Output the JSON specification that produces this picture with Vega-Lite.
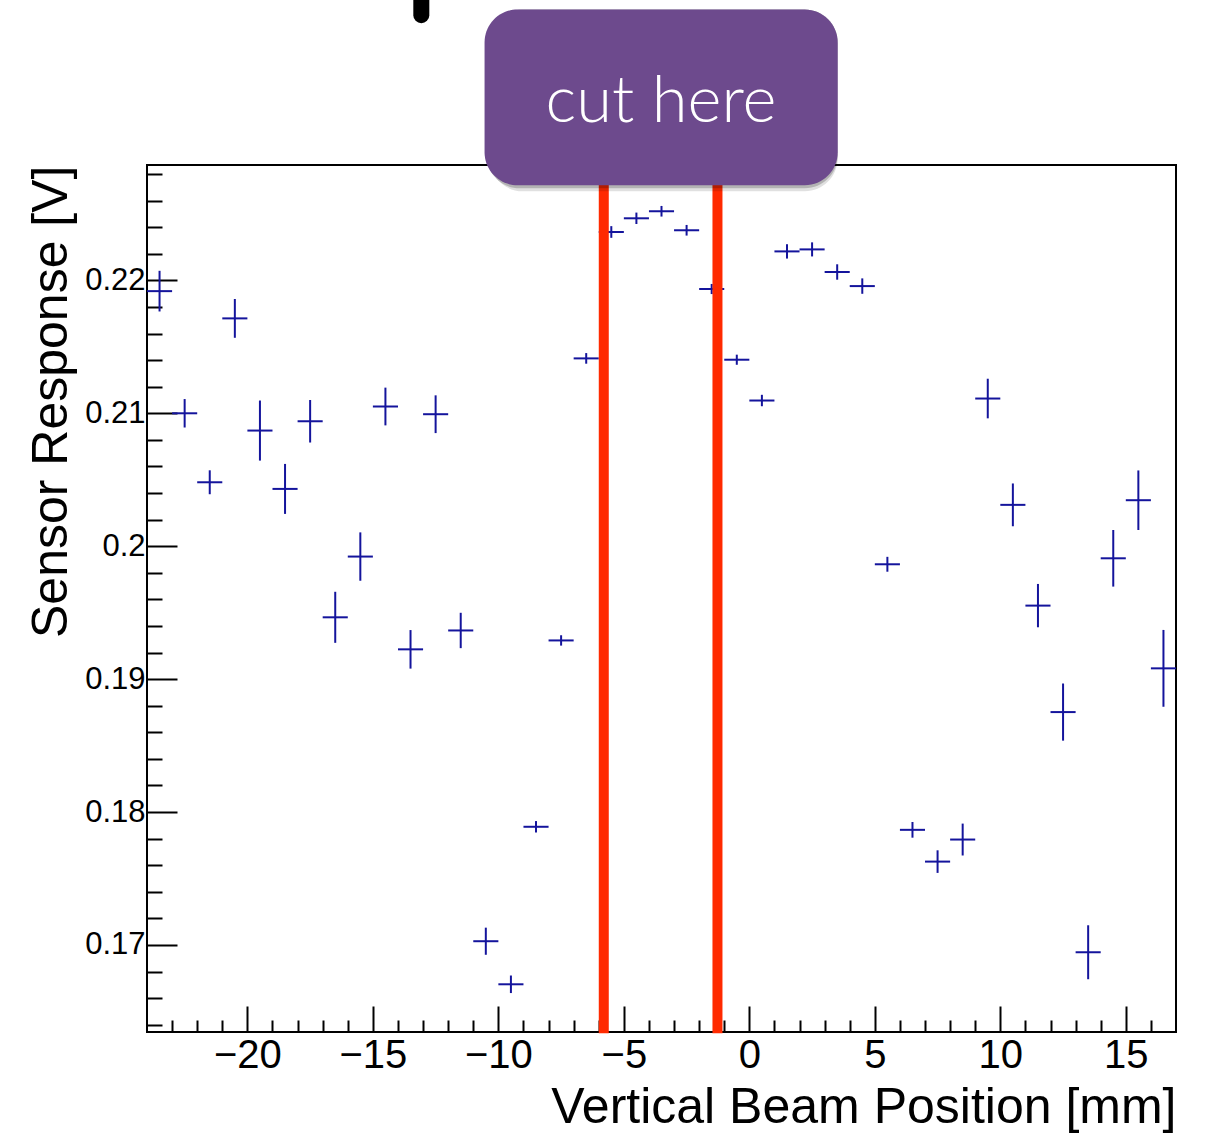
{
  "$schema": "https://vega.github.io/schema/vega-lite/v6.json",
  "autosize": "none",
  "width": 1029,
  "height": 867,
  "padding": {"left": 147, "top": 165, "right": 30, "bottom": 102},
  "background": "white",
  "config": {
    "view": {"stroke": "black", "strokeWidth": 2},
    "font": "Liberation Sans"
  },
  "datasets": {
    "points": [
      {"x": -23.5, "xlo": -24.0, "xhi": -23.0, "y": 0.21919, "ylo": 0.21766, "yhi": 0.22072},
      {"x": -22.5, "xlo": -23.0, "xhi": -22.0, "y": 0.2100, "ylo": 0.20893, "yhi": 0.21107},
      {"x": -21.5, "xlo": -22.0, "xhi": -21.0, "y": 0.20481, "ylo": 0.20391, "yhi": 0.20571},
      {"x": -20.5, "xlo": -21.0, "xhi": -20.0, "y": 0.21714, "ylo": 0.21568, "yhi": 0.21860},
      {"x": -19.5, "xlo": -20.0, "xhi": -19.0, "y": 0.2087, "ylo": 0.20644, "yhi": 0.21096},
      {"x": -18.5, "xlo": -19.0, "xhi": -18.0, "y": 0.20431, "ylo": 0.20243, "yhi": 0.20619},
      {"x": -17.5, "xlo": -18.0, "xhi": -17.0, "y": 0.2094, "ylo": 0.2078, "yhi": 0.2110},
      {"x": -16.5, "xlo": -17.0, "xhi": -16.0, "y": 0.19465, "ylo": 0.19273, "yhi": 0.19657},
      {"x": -15.5, "xlo": -16.0, "xhi": -15.0, "y": 0.19922, "ylo": 0.1974, "yhi": 0.20104},
      {"x": -14.5, "xlo": -15.0, "xhi": -14.0, "y": 0.21051, "ylo": 0.20909, "yhi": 0.21193},
      {"x": -13.5, "xlo": -14.0, "xhi": -13.0, "y": 0.19224, "ylo": 0.19079, "yhi": 0.19369},
      {"x": -12.5, "xlo": -13.0, "xhi": -12.0, "y": 0.20993, "ylo": 0.20851, "yhi": 0.21135},
      {"x": -11.5, "xlo": -12.0, "xhi": -11.0, "y": 0.19366, "ylo": 0.19233, "yhi": 0.19499},
      {"x": -10.5, "xlo": -11.0, "xhi": -10.0, "y": 0.17028, "ylo": 0.16926, "yhi": 0.1713},
      {"x": -9.5, "xlo": -10.0, "xhi": -9.0, "y": 0.16704, "ylo": 0.16638, "yhi": 0.1677},
      {"x": -8.5, "xlo": -9.0, "xhi": -8.0, "y": 0.17889, "ylo": 0.17846, "yhi": 0.17932},
      {"x": -7.5, "xlo": -8.0, "xhi": -7.0, "y": 0.19291, "ylo": 0.19252, "yhi": 0.1933},
      {"x": -6.5, "xlo": -7.0, "xhi": -6.0, "y": 0.21413, "ylo": 0.21373, "yhi": 0.21453},
      {"x": -5.5, "xlo": -6.0, "xhi": -5.0, "y": 0.22364, "ylo": 0.2232, "yhi": 0.22408},
      {"x": -4.5, "xlo": -5.0, "xhi": -4.0, "y": 0.22467, "ylo": 0.22424, "yhi": 0.2251},
      {"x": -3.5, "xlo": -4.0, "xhi": -3.0, "y": 0.2252, "ylo": 0.2248, "yhi": 0.2256},
      {"x": -2.5, "xlo": -3.0, "xhi": -2.0, "y": 0.22377, "ylo": 0.22337, "yhi": 0.22417},
      {"x": -1.5, "xlo": -2.0, "xhi": -1.0, "y": 0.21935, "ylo": 0.21897, "yhi": 0.21973},
      {"x": -0.5, "xlo": -1.0, "xhi": 0.0, "y": 0.21403, "ylo": 0.21365, "yhi": 0.21441},
      {"x": 0.5, "xlo": 0.0, "xhi": 1.0, "y": 0.21096, "ylo": 0.21053, "yhi": 0.21139},
      {"x": 1.5, "xlo": 1.0, "xhi": 2.0, "y": 0.22218, "ylo": 0.22164, "yhi": 0.22272},
      {"x": 2.5, "xlo": 2.0, "xhi": 3.0, "y": 0.22233, "ylo": 0.2218, "yhi": 0.22286},
      {"x": 3.5, "xlo": 3.0, "xhi": 4.0, "y": 0.22063, "ylo": 0.22005, "yhi": 0.22121},
      {"x": 4.5, "xlo": 4.0, "xhi": 5.0, "y": 0.21957, "ylo": 0.21899, "yhi": 0.22015},
      {"x": 5.5, "xlo": 5.0, "xhi": 6.0, "y": 0.19864, "ylo": 0.19808, "yhi": 0.1992},
      {"x": 6.5, "xlo": 6.0, "xhi": 7.0, "y": 0.17866, "ylo": 0.17807, "yhi": 0.17925},
      {"x": 7.5, "xlo": 7.0, "xhi": 8.0, "y": 0.17627, "ylo": 0.17542, "yhi": 0.17712},
      {"x": 8.5, "xlo": 8.0, "xhi": 9.0, "y": 0.17793, "ylo": 0.17673, "yhi": 0.17913},
      {"x": 9.5, "xlo": 9.0, "xhi": 10.0, "y": 0.21111, "ylo": 0.20962, "yhi": 0.2126},
      {"x": 10.5, "xlo": 10.0, "xhi": 11.0, "y": 0.20311, "ylo": 0.2015, "yhi": 0.20472},
      {"x": 11.5, "xlo": 11.0, "xhi": 12.0, "y": 0.19553, "ylo": 0.1939, "yhi": 0.19716},
      {"x": 12.5, "xlo": 12.0, "xhi": 13.0, "y": 0.18752, "ylo": 0.18537, "yhi": 0.18967},
      {"x": 13.5, "xlo": 13.0, "xhi": 14.0, "y": 0.16945, "ylo": 0.16742, "yhi": 0.17148},
      {"x": 14.5, "xlo": 14.0, "xhi": 15.0, "y": 0.19909, "ylo": 0.19696, "yhi": 0.20122},
      {"x": 15.5, "xlo": 15.0, "xhi": 16.0, "y": 0.20346, "ylo": 0.20122, "yhi": 0.2057},
      {"x": 16.5, "xlo": 16.0, "xhi": 17.0, "y": 0.19081, "ylo": 0.18792, "yhi": 0.1937}
    ],
    "cuts": [
      {"x": -5.8, "ylo": 0.16335, "yhi": 0.2275},
      {"x": -1.27, "ylo": 0.16335, "yhi": 0.2275}
    ],
    "box": [
      {"xlo": -10.55, "xhi": 3.52, "ylo": 0.22715, "yhi": 0.24038, "xc": -3.52, "yt": 0.23192, "label": "cut here"}
    ],
    "fragment": [
      {"x": -13.07, "ylo": 0.23995, "yhi": 0.2415}
    ]
  },
  "layer": [
    {
      "data": {"name": "points"},
      "mark": {"type": "rule", "color": "#14149c", "strokeWidth": 2},
      "encoding": {
        "x": {
          "field": "xlo", "type": "quantitative",
          "scale": {"domain": [-24, 17], "nice": false, "zero": false},
          "axis": {
            "orient": "bottom",
            "values": [-23,-22,-21,-20,-19,-18,-17,-16,-15,-14,-13,-12,-11,-10,-9,-8,-7,-6,-5,-4,-3,-2,-1,0,1,2,3,4,5,6,7,8,9,10,11,12,13,14,15,16],
            "tickCount": 500,
            "domain": false,
            "grid": false,
            "tickColor": "black",
            "tickWidth": 2,
            "tickSize": {"condition": {"test": "abs(datum.value) % 5 == 0", "value": -26}, "value": -12},
            "labelExpr": "abs(datum.value) % 5 == 0 ? format(datum.value, 'd') : ''",
            "labelFont": "Liberation Sans",
            "labelFontSize": 40,
            "labelColor": "black",
            "labelPadding": 29,
            "labelFlush": false,
            "labelOverlap": false,
            "title": "Vertical Beam Position [mm]",
            "titleFont": "Liberation Sans",
            "titleFontSize": 50,
            "titleFontWeight": "normal",
            "titleColor": "black",
            "titleAnchor": "end",
            "titleAlign": "right",
            "titleBaseline": "alphabetic",
            "titleX": 1029,
            "titleY": 90
          }
        },
        "x2": {"field": "xhi"},
        "y": {
          "field": "y", "type": "quantitative",
          "scale": {"domain": [0.16345, 0.22868], "nice": false, "zero": false},
          "axis": {
            "orient": "left",
            "values": [0.164,0.166,0.168,0.17,0.172,0.174,0.176,0.178,0.18,0.182,0.184,0.186,0.188,0.19,0.192,0.194,0.196,0.198,0.2,0.202,0.204,0.206,0.208,0.21,0.212,0.214,0.216,0.218,0.22,0.222,0.224,0.226,0.228],
            "tickCount": 500,
            "domain": false,
            "grid": false,
            "tickColor": "black",
            "tickWidth": 2,
            "tickSize": {"condition": {"test": "abs(round(datum.value * 1000)) % 10 == 0", "value": -30}, "value": -15},
            "labelExpr": "abs(round(datum.value * 1000)) % 10 == 0 ? format(datum.value, '~g') : ''",
            "labelFont": "Liberation Sans",
            "labelFontSize": 31,
            "labelColor": "black",
            "labelPadding": 32,
            "labelFlush": false,
            "labelOverlap": false,
            "title": "Sensor Response [V]",
            "titleFont": "Liberation Sans",
            "titleFontSize": 50,
            "titleFontWeight": "normal",
            "titleColor": "black",
            "titleAnchor": "end",
            "titleAngle": 270,
            "titleAlign": "right",
            "titleBaseline": "alphabetic",
            "titleX": -81,
            "titleY": 0
          }
        }
      }
    },
    {
      "data": {"name": "points"},
      "mark": {"type": "rule", "color": "#14149c", "strokeWidth": 2},
      "encoding": {
        "x": {"field": "x", "type": "quantitative"},
        "y": {"field": "ylo", "type": "quantitative"},
        "y2": {"field": "yhi"}
      }
    },
    {
      "data": {"name": "cuts"},
      "mark": {"type": "rule", "color": "#ff2a00", "strokeWidth": 10},
      "encoding": {
        "x": {"field": "x", "type": "quantitative"},
        "y": {"field": "ylo", "type": "quantitative"},
        "y2": {"field": "yhi"}
      }
    },
    {
      "data": {"name": "fragment"},
      "mark": {"type": "rule", "color": "black", "strokeWidth": 16, "strokeCap": "round"},
      "encoding": {
        "x": {"field": "x", "type": "quantitative"},
        "y": {"field": "ylo", "type": "quantitative"},
        "y2": {"field": "yhi"}
      }
    },
    {
      "data": {"name": "box"},
      "mark": {"type": "rect", "fill": "black", "opacity": 0.12, "cornerRadius": 33, "xOffset": 5, "yOffset": 6},
      "encoding": {
        "x": {"field": "xlo", "type": "quantitative"},
        "x2": {"field": "xhi"},
        "y": {"field": "ylo", "type": "quantitative"},
        "y2": {"field": "yhi"}
      }
    },
    {
      "data": {"name": "box"},
      "mark": {"type": "rect", "fill": "black", "opacity": 0.2, "cornerRadius": 33, "xOffset": 2, "yOffset": 3},
      "encoding": {
        "x": {"field": "xlo", "type": "quantitative"},
        "x2": {"field": "xhi"},
        "y": {"field": "ylo", "type": "quantitative"},
        "y2": {"field": "yhi"}
      }
    },
    {
      "data": {"name": "box"},
      "mark": {"type": "rect", "fill": "#6d4a8d", "cornerRadius": 33},
      "encoding": {
        "x": {"field": "xlo", "type": "quantitative"},
        "x2": {"field": "xhi"},
        "y": {"field": "ylo", "type": "quantitative"},
        "y2": {"field": "yhi"}
      }
    },
    {
      "data": {"name": "box"},
      "mark": {"type": "text", "color": "white", "font": "Lato", "fontWeight": 300, "fontSize": 65, "align": "center", "baseline": "alphabetic"},
      "encoding": {
        "x": {"field": "xc", "type": "quantitative"},
        "y": {"field": "yt", "type": "quantitative"},
        "text": {"field": "label"}
      }
    }
  ]
}
